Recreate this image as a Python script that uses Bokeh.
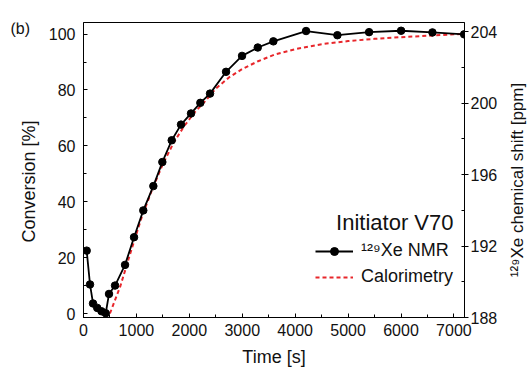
import math
from bokeh.plotting import figure
from bokeh.layouts import row
from bokeh.models import (Range1d, LinearAxis, SingleIntervalTicker, Legend,
                          LegendItem, Label)
from bokeh.embed import file_html
from bokeh.resources import INLINE

# ---- data ----
nmr_time = [60, 123, 180, 260, 340, 420, 482, 596, 785, 955, 1130, 1320, 1490,
            1667, 1843, 2032, 2208, 2391, 2694, 2996, 3293, 3588, 4206, 4798,
            5397, 6002, 6594, 7193]
nmr_conv = [22.5, 10.4, 3.6, 2.0, 0.8, 0.1, 7.0, 10.0, 17.4, 27.3, 36.9, 45.6,
            54.2, 62.0, 67.6, 71.6, 75.4, 78.7, 86.5, 92.2, 95.2, 97.4, 101.1,
            99.6, 100.7, 101.2, 100.6, 99.9]

cal_time = [500, 700, 900, 1100, 1300, 1500, 1700, 1900, 2100, 2300, 2500, 2750,
            3000, 3300, 3600, 4000, 4500, 5000, 5500, 6000, 6500, 7000, 7200]
cal_conv = [0, 10, 22.5, 34.5, 44.5, 53.5, 61, 67, 72, 76, 80.5, 84.5, 87.5,
            90.3, 92.6, 94.6, 96.4, 97.5, 98.3, 98.9, 99.4, 99.9, 100.1]

series_names = ["\u00b9\u00b2\u2079Xe NMR", "Calorimetry"]
legend_title = "Initiator V70"
panel_tag = "(b)"
x_label = "Time [s]"
y_label = "Conversion [%]"
y2_label = "\u00b9\u00b2\u2079Xe chemical shift [ppm]"

FONT = "Liberation Sans"
TXT = "#111111"
RED = "#e8262b"
H = 371
TOP, BOTTOM = 22, 54          # border sizes shared by all three panels
FRAME_BOTTOM = H - BOTTOM     # page y of the frames' bottom edge


def side_strip(width):
    f = figure(width=width, height=H, output_backend="svg", toolbar_location=None,
               x_axis_location=None, y_axis_location=None, title=None,
               x_range=Range1d(0, 1), y_range=Range1d(0, 1),
               min_border_left=0, min_border_right=0,
               min_border_top=TOP, min_border_bottom=BOTTOM)
    f.outline_line_color = None
    f.xgrid.visible = False
    f.ygrid.visible = False
    f.background_fill_color = "white"
    f.border_fill_color = "white"
    return f


# ---- left strip: panel tag and left axis title ----
left = side_strip(40)
left.add_layout(Label(x=10, y=FRAME_BOTTOM - 27.5, x_units="screen",
                      y_units="screen", text=panel_tag, text_align="left",
                      text_baseline="middle", text_font=FONT,
                      text_font_size="16px", text_color=TXT))
left.add_layout(Label(x=28, y=FRAME_BOTTOM - 181, x_units="screen",
                      y_units="screen", text=y_label, angle=math.pi / 2,
                      text_align="center", text_baseline="middle",
                      text_font=FONT, text_font_size="18px", text_color=TXT))

# ---- main plot ----
p = figure(width=465, height=H, output_backend="svg", toolbar_location=None,
           x_range=Range1d(0, 7200), y_range=Range1d(-1.43, 104.15),
           min_border_left=43, min_border_right=41, min_border_top=TOP,
           min_border_bottom=BOTTOM)
p.extra_y_ranges = {"ppm": Range1d(188, 204.52)}
p.xgrid.visible = False
p.ygrid.visible = False
p.outline_line_color = "black"
p.outline_line_width = 1
p.background_fill_color = "white"
p.border_fill_color = "white"

xa = p.xaxis[0]
xa.ticker = SingleIntervalTicker(interval=1000, num_minor_ticks=2)
xa.axis_label = x_label
ya = p.yaxis[0]
ya.ticker = SingleIntervalTicker(interval=20, num_minor_ticks=2)
ra = LinearAxis(y_range_name="ppm",
                ticker=SingleIntervalTicker(interval=4, num_minor_ticks=2))
p.add_layout(ra, "right")

for ax in (xa, ya, ra):
    ax.axis_line_color = "black"
    ax.axis_line_width = 1
    ax.major_tick_line_color = "black"
    ax.minor_tick_line_color = "black"
    ax.major_label_text_font = FONT
    ax.major_label_text_font_size = "16px"
    ax.major_label_text_color = TXT
    ax.axis_label_text_font = FONT
    ax.axis_label_text_font_size = "18px"
    ax.axis_label_text_font_style = "normal"
    ax.axis_label_text_color = TXT

for ax in (xa, ya):
    ax.major_tick_in = 4
    ax.major_tick_out = 0
    ax.minor_tick_in = 3
    ax.minor_tick_out = 0
xa.major_label_standoff = 6
xa.axis_label_standoff = 8
ya.major_label_standoff = 8
ra.major_tick_in = 0
ra.major_tick_out = 4
ra.minor_tick_in = 3
ra.minor_tick_out = 0
ra.major_label_standoff = 2

cal = p.line(cal_time, cal_conv, line_color=RED, line_width=2, line_dash="4 3")
nl = p.line(nmr_time, nmr_conv, line_color="black", line_width=1.8)
ns = p.scatter(nmr_time, nmr_conv, marker="circle", size=7.5,
               fill_color="black", line_color="black")

legend = Legend(items=[LegendItem(label=series_names[0], renderers=[nl, ns]),
                       LegendItem(label=series_names[1], renderers=[cal])],
                location=(232, 30), padding=0, spacing=5, glyph_width=38,
                glyph_height=20, label_height=20, label_standoff=8,
                label_text_font=FONT, label_text_font_size="18px",
                label_text_color=TXT, border_line_color=None,
                background_fill_alpha=0)
p.add_layout(legend)

p.add_layout(Label(x=370, y=95, x_units="screen", y_units="screen",
                   text=legend_title, text_align="right", text_baseline="middle",
                   text_font=FONT, text_font_size="22px", text_color=TXT))

# ---- right strip: right axis title ----
right = side_strip(24)
right.add_layout(Label(x=12, y=FRAME_BOTTOM - 179.5, x_units="screen",
                       y_units="screen", text=y2_label, angle=math.pi / 2,
                       text_align="center", text_baseline="middle",
                       text_font=FONT, text_font_size="17px", text_color=TXT))

layout = row(left, p, right, spacing=0)
open("out.html", "w").write(file_html(layout, INLINE))
